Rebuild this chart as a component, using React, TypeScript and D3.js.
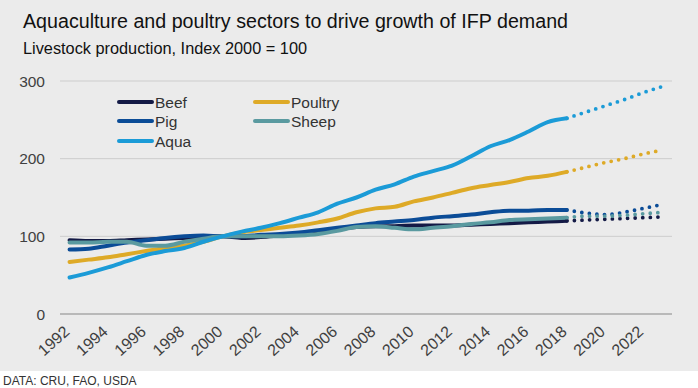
import React, { useRef, useEffect } from "react";
import * as d3 from "d3";

const years = d3.range(1992, 2024);
const histYears = d3.range(1992, 2019);
const projYears = d3.range(2018, 2024);
const tickYears = d3.range(1992, 2023, 2);
const yTicks = [0, 100, 200, 300];

const seriesNames = ["Beef", "Poultry", "Pig", "Sheep", "Aqua"];
const seriesColors = ["#141a46", "#deaa27", "#0b4c97", "#5a9aa0", "#1b9bd7"];

const beef = [95, 94, 94, 95, 96, 97, 98, 99, 100, 98, 99, 101, 103, 106, 109, 112, 113, 113, 114, 114, 114, 115, 116, 117, 118, 119, 120];
const poultry = [67, 70, 73, 77, 81, 85, 88, 93, 100, 105, 108, 111, 114, 118, 123, 131, 136, 138, 145, 150, 156, 162, 166, 170, 175, 178, 183];
const pig = [83, 84, 88, 92, 95, 98, 100, 101, 100, 100, 102, 103, 105, 108, 111, 114, 117, 119, 121, 124, 126, 128, 131, 133, 133, 134, 134];
const sheep = [92, 92, 93, 93, 88, 88, 93, 97, 100, 100, 100, 100, 101, 103, 107, 112, 113, 111, 109, 111, 113, 116, 118, 121, 122, 123, 124];
const aqua = [47, 53, 60, 68, 76, 81, 85, 93, 100, 106, 111, 117, 124, 131, 142, 150, 160, 167, 177, 184, 191, 203, 216, 224, 235, 247, 252];

// projections 2018-2023 (first value = last actual)
const beefProj = [120, 121, 122, 123, 124, 125];
const poultryProj = [183, 189, 195, 200, 206, 211];
const pigProj = [134, 130, 128, 131, 136, 141];
const sheepProj = [124, 126, 126, 127, 129, 131];
const aquaProj = [252, 260, 268, 276, 285, 293];

const actuals = [beef, poultry, pig, sheep, aqua];
const projections = [beefProj, poultryProj, pigProj, sheepProj, aquaProj];

const App = () => {
  const svgRef = useRef<SVGSVGElement>(null);
  const width = 698;
  const height = 388;
  const font = "'Liberation Sans', Arial, sans-serif";

  useEffect(() => {
    const svg = d3.select(svgRef.current);
    svg.selectAll("*").remove();

    svg.append("rect").attr("width", width).attr("height", height).attr("fill", "#ffffff");
    svg.append("rect").attr("width", width).attr("height", 371).attr("fill", "#ebebeb");

    const x = d3.scaleBand<number>().domain(years).range([60, 672]);
    const cx = (yr: number) => (x(yr) as number) + x.bandwidth() / 2;
    const y = d3.scaleLinear().domain([0, 300]).range([314, 81]);

    // titles
    svg.append("text").attr("x", 23).attr("y", 28)
      .attr("font-family", font).attr("font-size", 19.5).attr("fill", "#111")
      .attr("textLength", 545).attr("lengthAdjust", "spacingAndGlyphs")
      .text("Aquaculture and poultry sectors to drive growth of IFP demand");
    svg.append("text").attr("x", 23).attr("y", 54)
      .attr("font-family", font).attr("font-size", 16).attr("fill", "#111")
      .attr("textLength", 284).attr("lengthAdjust", "spacingAndGlyphs")
      .text("Livestock production, Index 2000 = 100");

    // grid + y labels
    yTicks.forEach((t) => {
      svg.append("line")
        .attr("x1", 60).attr("x2", 672)
        .attr("y1", y(t)).attr("y2", y(t))
        .attr("stroke", t === 0 ? "#a8a8a8" : "#cdcdcd")
        .attr("stroke-width", t === 0 ? 1.5 : 1);
      svg.append("text")
        .attr("x", 45).attr("y", y(t) + 5.5)
        .attr("text-anchor", "end")
        .attr("font-family", font).attr("font-size", 15.5).attr("fill", "#404040")
        .text(t);
    });

    // x labels
    tickYears.forEach((yr) => {
      svg.append("text")
        .attr("transform", `translate(${cx(yr) + 1}, 333) rotate(-42)`)
        .attr("text-anchor", "end")
        .attr("font-family", font).attr("font-size", 16).attr("fill", "#404040")
        .text(yr);
    });

    // solid lines
    actuals.forEach((vals, i) => {
      const pts = vals.map((v, j) => [cx(histYears[j]), y(v)] as [number, number]);
      svg.append("path")
        .attr("d", d3.line().curve(d3.curveMonotoneX)(pts))
        .attr("fill", "none")
        .attr("stroke", seriesColors[i])
        .attr("stroke-width", 4)
        .attr("stroke-linecap", "round");
    });

    // projected, dotted
    projections.forEach((vals, i) => {
      const pts = vals.map((v, j) => [cx(projYears[j]), y(v)] as [number, number]);
      svg.append("path")
        .attr("d", d3.line().curve(d3.curveMonotoneX)(pts))
        .attr("fill", "none")
        .attr("stroke", seriesColors[i])
        .attr("stroke-width", 3.8)
        .attr("stroke-linecap", "round")
        .attr("stroke-dasharray", "0 7.6")
        .attr("stroke-dashoffset", -7.6);
    });

    // legend
    const legendPos = [
      [119, 102], [255, 102],
      [119, 121], [255, 121],
      [119, 141],
    ];
    seriesNames.forEach((name, i) => {
      const [lx, ly] = legendPos[i];
      svg.append("line")
        .attr("x1", lx).attr("x2", lx + 33)
        .attr("y1", ly).attr("y2", ly)
        .attr("stroke", seriesColors[i])
        .attr("stroke-width", 4)
        .attr("stroke-linecap", "round");
      svg.append("text")
        .attr("x", lx + 36).attr("y", ly + 5.5)
        .attr("font-family", font).attr("font-size", 15.5).attr("fill", "#333")
        .text(name);
    });

    // source
    svg.append("text").attr("x", 3).attr("y", 385)
      .attr("font-family", font).attr("font-size", 12).attr("fill", "#333")
      .text("DATA: CRU, FAO, USDA");
  }, []);

  return (
    <div style={{ position: "absolute", left: 0, top: 0 }}>
      <svg ref={svgRef} width={width} height={height} style={{ display: "block" }} />
    </div>
  );
};

export default App;
